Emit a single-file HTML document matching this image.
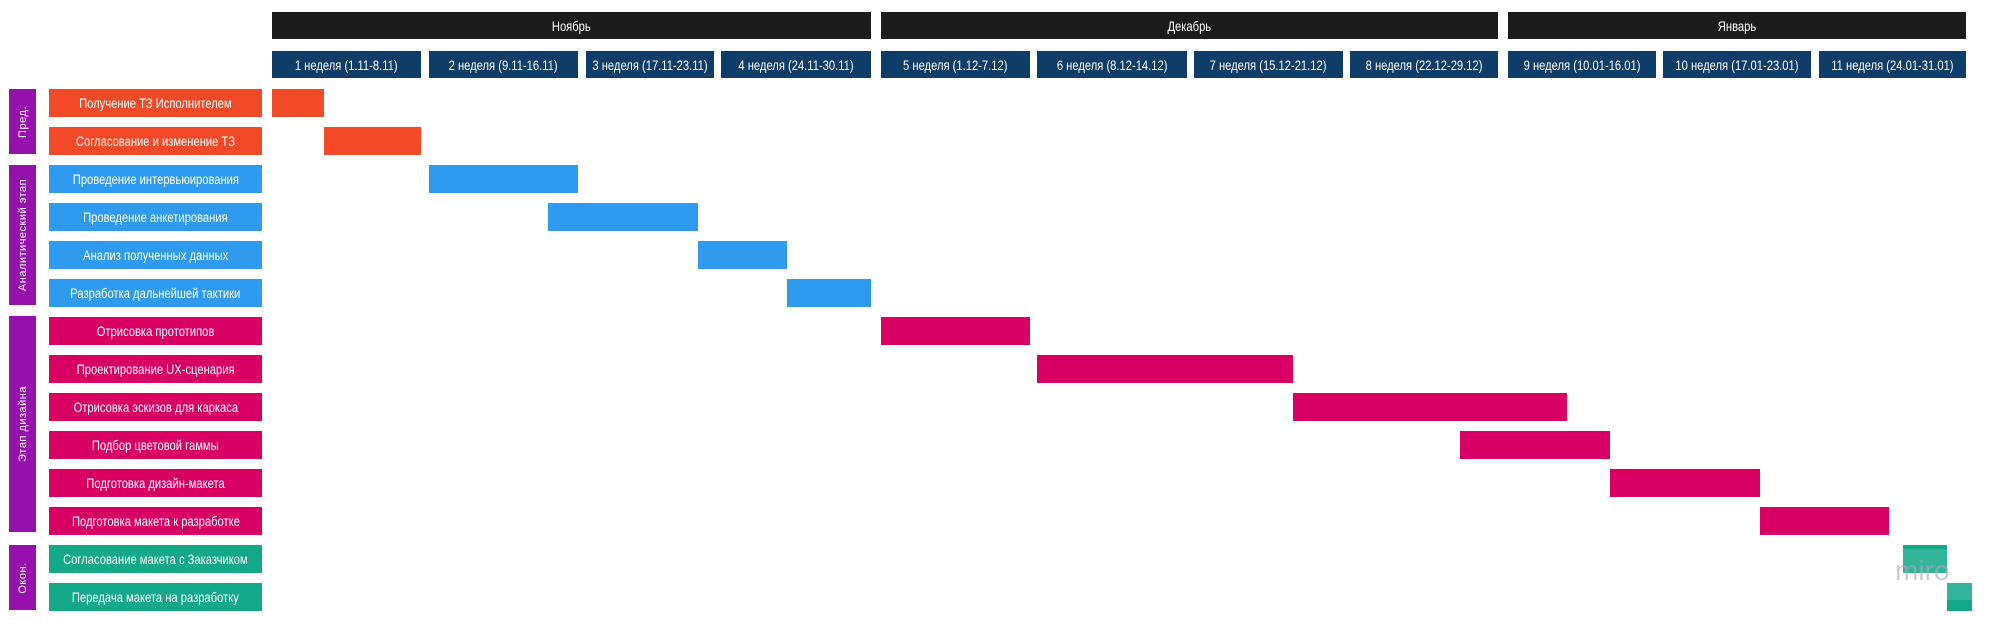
<!DOCTYPE html>
<html><head><meta charset="utf-8"><style>
*{margin:0;padding:0;box-sizing:border-box}
body{width:2006px;height:630px;background:#fff;position:relative;overflow:hidden;font-family:"Liberation Sans",sans-serif}
.b{position:absolute}
.t{position:absolute;color:#fff;display:flex;align-items:center;justify-content:center;font-size:14px;white-space:nowrap}
.t i{font-style:normal;display:inline-block;transform:scaleX(0.8)}
.m{background:#1c1c1c;top:12px;height:27px}
.w{background:#0f3d69;top:51px;height:27px}
.s{position:absolute;left:9px;width:27px;background:#9510ac}
.s span{position:absolute;left:50%;top:50%;transform:translate(-50%,-50%) rotate(-90deg);color:#fff;font-family:"Liberation Sans",sans-serif;font-size:11px;white-space:nowrap;letter-spacing:0.5px}
.l{left:49px;width:213px;height:28px}
.o{background:#f24a28}.u{background:#2f9bf0}.p{background:#d80062}.g{background:#12a888}
</style></head><body>
<div class="t m" style="left:272px;width:599px"><i>Ноябрь</i></div>
<div class="t m" style="left:881px;width:617px"><i>Декабрь</i></div>
<div class="t m" style="left:1508px;width:458px"><i>Январь</i></div>

<div class="t w" style="left:272px;width:149px"><i>1 неделя (1.11-8.11)</i></div>
<div class="t w" style="left:429px;width:149px"><i>2 неделя (9.11-16.11)</i></div>
<div class="t w" style="left:586px;width:128px"><i>3 неделя (17.11-23.11)</i></div>
<div class="t w" style="left:721px;width:150px"><i>4 неделя (24.11-30.11)</i></div>
<div class="t w" style="left:881px;width:149px"><i>5 неделя (1.12-7.12)</i></div>
<div class="t w" style="left:1037px;width:150px"><i>6 неделя (8.12-14.12)</i></div>
<div class="t w" style="left:1194px;width:149px"><i>7 неделя (15.12-21.12)</i></div>
<div class="t w" style="left:1350px;width:148px"><i>8 неделя (22.12-29.12)</i></div>
<div class="t w" style="left:1508px;width:148px"><i>9 неделя (10.01-16.01)</i></div>
<div class="t w" style="left:1663px;width:148px"><i>10 неделя (17.01-23.01)</i></div>
<div class="t w" style="left:1819px;width:147px"><i>11 неделя (24.01-31.01)</i></div>

<div class="s" style="top:89px;height:65px"><span>Пред.</span></div>
<div class="s" style="top:165px;height:140px"><span>Аналитический этап</span></div>
<div class="s" style="top:316px;height:216px"><span>Этап дизайна</span></div>
<div class="s" style="top:545px;height:65px"><span>Окон.</span></div>

<div class="t l o" style="top:89px"><i>Получение ТЗ Исполнителем</i></div>
<div class="t l o" style="top:127px"><i>Согласование и изменение ТЗ</i></div>
<div class="t l u" style="top:165px"><i>Проведение интервьюирования</i></div>
<div class="t l u" style="top:203px"><i>Проведение анкетирования</i></div>
<div class="t l u" style="top:241px"><i>Анализ полученных данных</i></div>
<div class="t l u" style="top:279px"><i>Разработка дальнейшей тактики</i></div>
<div class="t l p" style="top:317px"><i>Отрисовка прототипов</i></div>
<div class="t l p" style="top:355px"><i>Проектирование UX-сценария</i></div>
<div class="t l p" style="top:393px"><i>Отрисовка эскизов для каркаса</i></div>
<div class="t l p" style="top:431px"><i>Подбор цветовой гаммы</i></div>
<div class="t l p" style="top:469px"><i>Подготовка дизайн-макета</i></div>
<div class="t l p" style="top:507px"><i>Подготовка макета к разработке</i></div>
<div class="t l g" style="top:545px"><i>Согласование макета с Заказчиком</i></div>
<div class="t l g" style="top:583px"><i>Передача макета на разработку</i></div>

<div class="b o" style="left:272px;width:52px;top:89px;height:28px"></div>
<div class="b o" style="left:324px;width:97px;top:127px;height:28px"></div>
<div class="b u" style="left:429px;width:149px;top:165px;height:28px"></div>
<div class="b u" style="left:548px;width:150px;top:203px;height:28px"></div>
<div class="b u" style="left:698px;width:89px;top:241px;height:28px"></div>
<div class="b u" style="left:787px;width:84px;top:279px;height:28px"></div>
<div class="b p" style="left:881px;width:149px;top:317px;height:28px"></div>
<div class="b p" style="left:1037px;width:256px;top:355px;height:28px"></div>
<div class="b p" style="left:1293px;width:274px;top:393px;height:28px"></div>
<div class="b p" style="left:1460px;width:150px;top:431px;height:28px"></div>
<div class="b p" style="left:1610px;width:150px;top:469px;height:28px"></div>
<div class="b p" style="left:1760px;width:129px;top:507px;height:28px"></div>
<div class="b" style="left:1903px;width:44px;top:545px;height:28px;background:#33b59b;border-top:4px solid #12a888"></div>
<div class="b" style="left:1947px;width:25px;top:583px;height:28px;background:linear-gradient(#33b59b 60%,#12a888 60%)"></div>
<div class="b" style="left:1895px;top:553px;font-family:'Liberation Sans',sans-serif;font-size:28px;color:rgba(170,170,185,0.6);line-height:36px">miro</div>
</body></html>
